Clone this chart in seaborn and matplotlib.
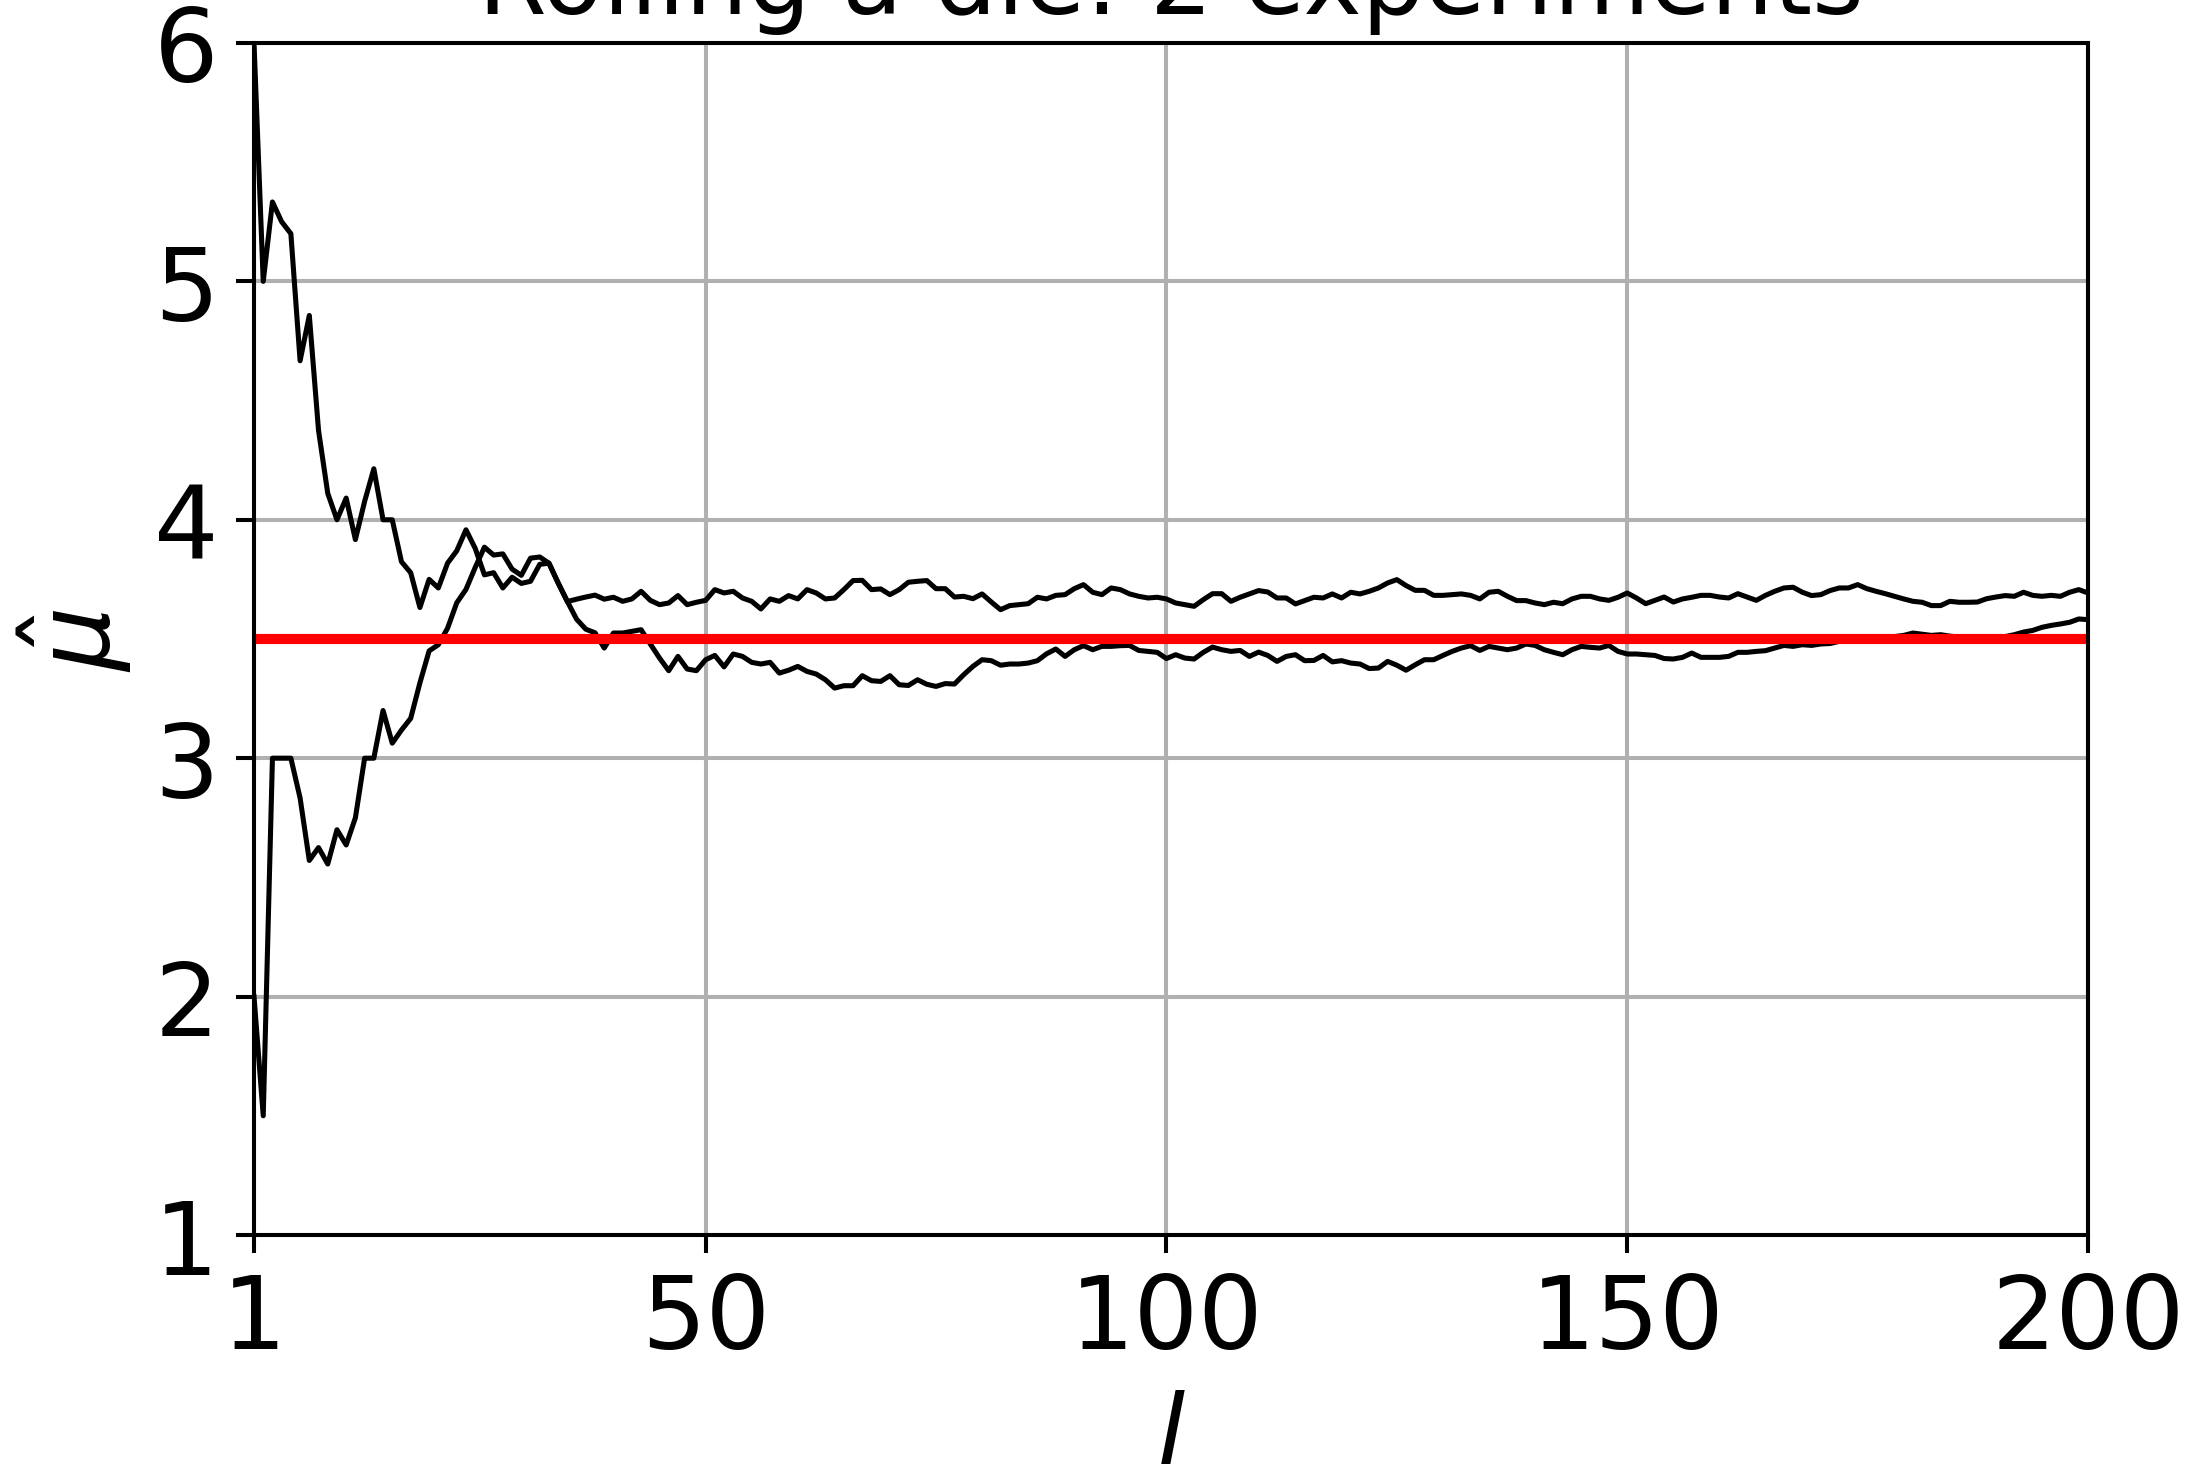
import matplotlib
matplotlib.use("Agg")
import matplotlib.pyplot as plt
import numpy as np
import pandas as pd
import seaborn as sns

# Running sample mean of die rolls, two independent experiments (l = 1..200)
mean_exp1 = [
    6.0, 5.0, 5.333, 5.25, 5.2, 4.667, 4.857, 4.375, 4.111, 4.0,
    4.091, 3.917, 4.077, 4.214, 4.0, 4.0, 3.824, 3.778, 3.632, 3.75,
    3.714, 3.818, 3.870, 3.958, 3.88, 3.769, 3.778, 3.714, 3.759, 3.733,
    3.742, 3.813, 3.818, 3.735, 3.657, 3.667, 3.676, 3.684, 3.667, 3.675,
    3.658, 3.668, 3.70, 3.662, 3.644, 3.651, 3.682, 3.644, 3.654, 3.662,
    3.707, 3.693, 3.70, 3.672, 3.658, 3.626, 3.668, 3.658, 3.682, 3.668,
    3.707, 3.693, 3.668, 3.672, 3.707, 3.745, 3.746, 3.707, 3.71, 3.686,
    3.707, 3.738, 3.742, 3.745, 3.711, 3.711, 3.676, 3.679, 3.669, 3.689,
    3.655, 3.623, 3.64, 3.644, 3.648, 3.675, 3.668, 3.683, 3.686, 3.711,
    3.728, 3.696, 3.686, 3.714, 3.707, 3.689, 3.679, 3.672, 3.675, 3.668,
    3.651, 3.644, 3.637, 3.665, 3.69, 3.69, 3.658, 3.675, 3.689, 3.703,
    3.697, 3.672, 3.672, 3.647, 3.661, 3.675, 3.672, 3.689, 3.672, 3.696,
    3.689, 3.70, 3.714, 3.735, 3.749, 3.724, 3.704, 3.704, 3.683, 3.683,
    3.686, 3.689, 3.683, 3.668, 3.696, 3.70, 3.679, 3.661, 3.661, 3.651,
    3.644, 3.654, 3.648, 3.668, 3.679, 3.679, 3.668, 3.662, 3.675, 3.693,
    3.672, 3.648, 3.662, 3.676, 3.655, 3.668, 3.675, 3.683, 3.683, 3.676,
    3.672, 3.69, 3.676, 3.662, 3.683, 3.70, 3.714, 3.717, 3.696, 3.682,
    3.686, 3.703, 3.714, 3.714, 3.728, 3.711, 3.70, 3.69, 3.679, 3.668,
    3.658, 3.654, 3.64, 3.64, 3.658, 3.654, 3.654, 3.655, 3.669, 3.676,
    3.682, 3.679, 3.696, 3.683, 3.679, 3.683, 3.679, 3.696, 3.707, 3.693,
]

mean_exp2 = [
    2.0, 1.5, 3.0, 3.0, 3.0, 2.833, 2.571, 2.625, 2.556, 2.7,
    2.636, 2.75, 3.0, 3.0, 3.2, 3.063, 3.118, 3.167, 3.316, 3.45,
    3.476, 3.545, 3.652, 3.708, 3.8, 3.885, 3.852, 3.857, 3.793, 3.767,
    3.839, 3.844, 3.818, 3.735, 3.657, 3.583, 3.541, 3.526, 3.462, 3.525,
    3.525, 3.532, 3.539, 3.479, 3.42, 3.367, 3.427, 3.374, 3.367, 3.413,
    3.431, 3.383, 3.437, 3.427, 3.402, 3.395, 3.402, 3.357, 3.369, 3.385,
    3.364, 3.353, 3.329, 3.294, 3.304, 3.304, 3.346, 3.325, 3.322, 3.346,
    3.308, 3.305, 3.329, 3.31, 3.301, 3.313, 3.311, 3.35, 3.385, 3.413,
    3.409, 3.39, 3.395, 3.395, 3.399, 3.409, 3.438, 3.458, 3.427, 3.455,
    3.472, 3.455, 3.469, 3.469, 3.472, 3.473, 3.452, 3.448, 3.444, 3.418,
    3.434, 3.42, 3.416, 3.444, 3.466, 3.455, 3.448, 3.452, 3.427, 3.445,
    3.431, 3.406, 3.427, 3.434, 3.409, 3.41, 3.431, 3.404, 3.409, 3.399,
    3.395, 3.376, 3.378, 3.406, 3.39, 3.369, 3.392, 3.413, 3.413, 3.431,
    3.448, 3.462, 3.472, 3.452, 3.469, 3.462, 3.455, 3.462, 3.479, 3.473,
    3.455, 3.444, 3.434, 3.455, 3.469, 3.465, 3.462, 3.473, 3.448, 3.437,
    3.437, 3.434, 3.431, 3.418, 3.416, 3.423, 3.441, 3.423, 3.423, 3.423,
    3.427, 3.444, 3.444, 3.448, 3.451, 3.462, 3.473, 3.469, 3.476, 3.473,
    3.479, 3.481, 3.49, 3.495, 3.50, 3.503, 3.505, 3.508, 3.51, 3.515,
    3.525, 3.52, 3.515, 3.518, 3.512, 3.508, 3.505, 3.503, 3.502, 3.505,
    3.51, 3.518, 3.529, 3.536, 3.549, 3.557, 3.563, 3.57, 3.584, 3.581,
]

true_mean = 3.5
x_ticks = [1, 50, 100, 150, 200]
y_ticks = [1, 2, 3, 4, 5, 6]

n_rolls = len(mean_exp1)
rolls = np.arange(1, n_rolls + 1)
df = pd.DataFrame({
    "l": np.concatenate([rolls, rolls]),
    "mu_hat": np.concatenate([mean_exp1, mean_exp2]),
    "experiment": ["1"] * n_rolls + ["2"] * n_rolls,
})

dpi = 365
fig = plt.figure(figsize=(2186 / dpi, 1465 / dpi), dpi=dpi)
ax = fig.add_axes([0.1162, 0.1563, 0.8390, 0.8137])

sns.lineplot(data=df, x="l", y="mu_hat", hue="experiment",
             palette=["black", "black"], linewidth=1.0, legend=False,
             estimator=None, ax=ax)
ax.axhline(true_mean, color="red", linewidth=2.0)

ax.set_xlim(1, 200)
ax.set_ylim(1, 6)
ax.set_xticks(x_ticks)
ax.set_yticks(y_ticks)
ax.grid(True, color="#b0b0b0", linewidth=0.8)
ax.tick_params(labelsize=20)
ax.set_xlabel(r"$l$", fontsize=20)
ax.set_ylabel(r"$\hat{\mu}$", fontsize=20)
ax.set_title("Rolling a die: 2 experiments", fontsize=19.5)

fig.savefig("out.png", dpi=dpi)
